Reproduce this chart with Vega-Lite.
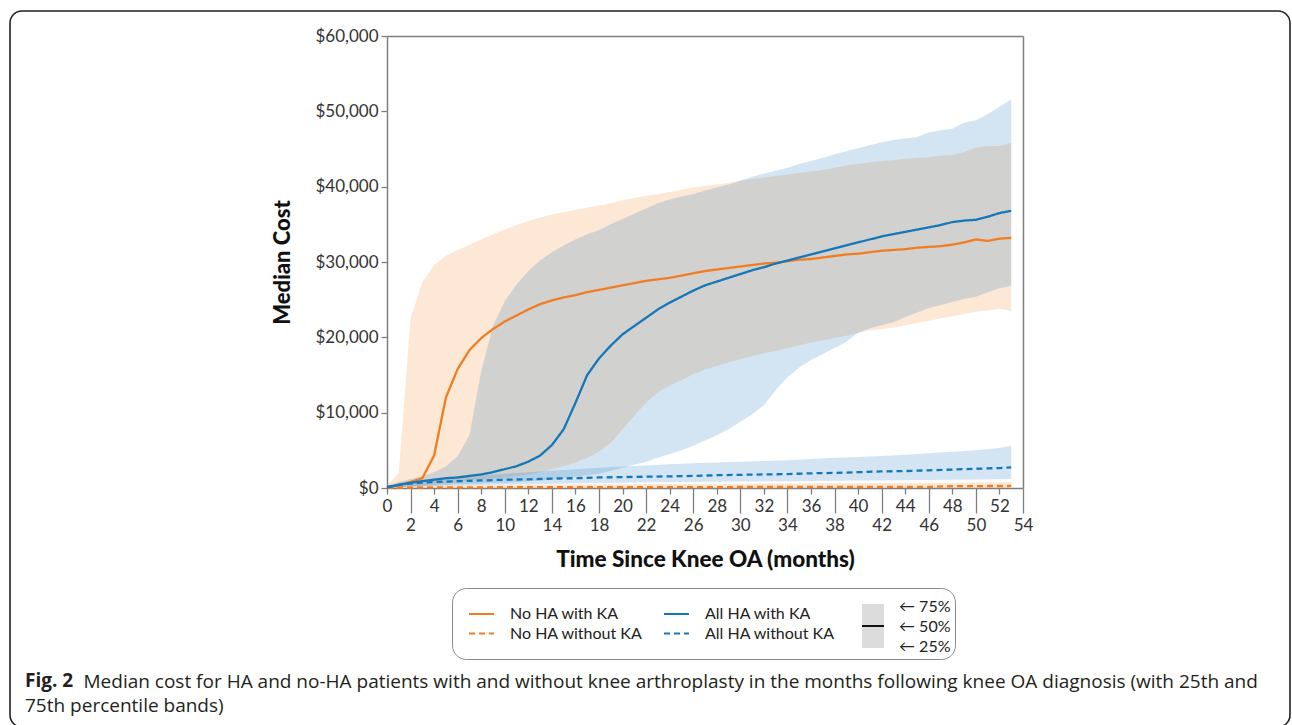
{
  "$schema": "https://vega.github.io/schema/vega-lite/v6.json",
  "autosize": "none",
  "width": 1280,
  "height": 716,
  "padding": {"left": 10, "top": 11, "right": 2, "bottom": -2},
  "background": "white",
  "config": {
    "view": {"stroke": "#222222", "strokeWidth": 1.6, "cornerRadius": 12},
    "axis": {"grid": false},
    "font": "Lato"
  },
  "title": {
    "text": "Fig. 2",
    "subtitle": "75th percentile bands)",
    "orient": "top",
    "anchor": "start",
    "frame": "group",
    "offset": 0,
    "dx": 15,
    "dy": 705,
    "font": "Open Sans",
    "fontSize": 19,
    "fontWeight": "bold",
    "color": "#231f20",
    "subtitleFont": "Open Sans",
    "subtitleFontSize": 19,
    "subtitleFontWeight": "normal",
    "subtitleColor": "#231f20",
    "subtitlePadding": 6
  },
  "datasets": {
    "d": [
      {"m":0,"s":"No HA with KA","lo":0,"med":100,"hi":300},
      {"m":1,"s":"No HA with KA","lo":100,"med":400,"hi":2000},
      {"m":2,"s":"No HA with KA","lo":200,"med":800,"hi":22500},
      {"m":3,"s":"No HA with KA","lo":300,"med":1300,"hi":27300},
      {"m":4,"s":"No HA with KA","lo":500,"med":4300,"hi":29600},
      {"m":5,"s":"No HA with KA","lo":600,"med":12000,"hi":30800},
      {"m":6,"s":"No HA with KA","lo":800,"med":15800,"hi":31600},
      {"m":7,"s":"No HA with KA","lo":1000,"med":18300,"hi":32300},
      {"m":8,"s":"No HA with KA","lo":1100,"med":19900,"hi":33000},
      {"m":9,"s":"No HA with KA","lo":1300,"med":21100,"hi":33700},
      {"m":10,"s":"No HA with KA","lo":1400,"med":22100,"hi":34300},
      {"m":11,"s":"No HA with KA","lo":1600,"med":22900,"hi":34900},
      {"m":12,"s":"No HA with KA","lo":1800,"med":23700,"hi":35400},
      {"m":13,"s":"No HA with KA","lo":2100,"med":24400,"hi":35900},
      {"m":14,"s":"No HA with KA","lo":2500,"med":24900,"hi":36300},
      {"m":15,"s":"No HA with KA","lo":2900,"med":25300,"hi":36600},
      {"m":16,"s":"No HA with KA","lo":3400,"med":25600,"hi":36900},
      {"m":17,"s":"No HA with KA","lo":4000,"med":26000,"hi":37200},
      {"m":18,"s":"No HA with KA","lo":4800,"med":26300,"hi":37500},
      {"m":19,"s":"No HA with KA","lo":6000,"med":26600,"hi":37800},
      {"m":20,"s":"No HA with KA","lo":7800,"med":26900,"hi":38200},
      {"m":21,"s":"No HA with KA","lo":9600,"med":27200,"hi":38500},
      {"m":22,"s":"No HA with KA","lo":11300,"med":27500,"hi":38800},
      {"m":23,"s":"No HA with KA","lo":12700,"med":27700,"hi":39000},
      {"m":24,"s":"No HA with KA","lo":13600,"med":27900,"hi":39300},
      {"m":25,"s":"No HA with KA","lo":14300,"med":28200,"hi":39600},
      {"m":26,"s":"No HA with KA","lo":15100,"med":28500,"hi":39900},
      {"m":27,"s":"No HA with KA","lo":15700,"med":28800,"hi":40100},
      {"m":28,"s":"No HA with KA","lo":16200,"med":29000,"hi":40300},
      {"m":29,"s":"No HA with KA","lo":16700,"med":29200,"hi":40500},
      {"m":30,"s":"No HA with KA","lo":17100,"med":29400,"hi":40800},
      {"m":31,"s":"No HA with KA","lo":17500,"med":29600,"hi":41000},
      {"m":32,"s":"No HA with KA","lo":17900,"med":29800,"hi":41200},
      {"m":33,"s":"No HA with KA","lo":18200,"med":29900,"hi":41400},
      {"m":34,"s":"No HA with KA","lo":18600,"med":30100,"hi":41600},
      {"m":35,"s":"No HA with KA","lo":18900,"med":30300,"hi":41800},
      {"m":36,"s":"No HA with KA","lo":19300,"med":30400,"hi":42000},
      {"m":37,"s":"No HA with KA","lo":19600,"med":30600,"hi":42200},
      {"m":38,"s":"No HA with KA","lo":19900,"med":30800,"hi":42500},
      {"m":39,"s":"No HA with KA","lo":20200,"med":31000,"hi":42800},
      {"m":40,"s":"No HA with KA","lo":20600,"med":31100,"hi":43000},
      {"m":41,"s":"No HA with KA","lo":20900,"med":31300,"hi":43200},
      {"m":42,"s":"No HA with KA","lo":21100,"med":31500,"hi":43400},
      {"m":43,"s":"No HA with KA","lo":21300,"med":31600,"hi":43500},
      {"m":44,"s":"No HA with KA","lo":21600,"med":31700,"hi":43700},
      {"m":45,"s":"No HA with KA","lo":21900,"med":31900,"hi":43800},
      {"m":46,"s":"No HA with KA","lo":22200,"med":32000,"hi":43900},
      {"m":47,"s":"No HA with KA","lo":22500,"med":32100,"hi":44100},
      {"m":48,"s":"No HA with KA","lo":22800,"med":32300,"hi":44200},
      {"m":49,"s":"No HA with KA","lo":23100,"med":32600,"hi":44600},
      {"m":50,"s":"No HA with KA","lo":23400,"med":33000,"hi":45200},
      {"m":51,"s":"No HA with KA","lo":23600,"med":32800,"hi":45400},
      {"m":52,"s":"No HA with KA","lo":23800,"med":33100,"hi":45400},
      {"m":53,"s":"No HA with KA","lo":23500,"med":33200,"hi":45800},

      {"m":0,"s":"No HA without KA","lo":0,"med":20,"hi":100},
      {"m":2,"s":"No HA without KA","lo":0,"med":60,"hi":350},
      {"m":6,"s":"No HA without KA","lo":0,"med":90,"hi":400},
      {"m":10,"s":"No HA without KA","lo":0,"med":100,"hi":430},
      {"m":14,"s":"No HA without KA","lo":0,"med":110,"hi":460},
      {"m":18,"s":"No HA without KA","lo":0,"med":115,"hi":490},
      {"m":22,"s":"No HA without KA","lo":0,"med":120,"hi":520},
      {"m":26,"s":"No HA without KA","lo":0,"med":125,"hi":550},
      {"m":30,"s":"No HA without KA","lo":0,"med":130,"hi":580},
      {"m":34,"s":"No HA without KA","lo":0,"med":135,"hi":610},
      {"m":38,"s":"No HA without KA","lo":0,"med":140,"hi":640},
      {"m":42,"s":"No HA without KA","lo":0,"med":145,"hi":670},
      {"m":46,"s":"No HA without KA","lo":0,"med":150,"hi":700},
      {"m":48,"s":"No HA without KA","lo":0,"med":250,"hi":710},
      {"m":50,"s":"No HA without KA","lo":0,"med":260,"hi":720},
      {"m":53,"s":"No HA without KA","lo":0,"med":270,"hi":750},

      {"m":0,"s":"All HA with KA","lo":0,"med":100,"hi":300},
      {"m":1,"s":"All HA with KA","lo":100,"med":400,"hi":800},
      {"m":2,"s":"All HA with KA","lo":200,"med":700,"hi":1200},
      {"m":3,"s":"All HA with KA","lo":300,"med":900,"hi":1600},
      {"m":4,"s":"All HA with KA","lo":300,"med":1100,"hi":2100},
      {"m":5,"s":"All HA with KA","lo":400,"med":1300,"hi":2900},
      {"m":6,"s":"All HA with KA","lo":500,"med":1400,"hi":4200},
      {"m":7,"s":"All HA with KA","lo":500,"med":1600,"hi":7000},
      {"m":8,"s":"All HA with KA","lo":600,"med":1800,"hi":15500},
      {"m":9,"s":"All HA with KA","lo":700,"med":2100,"hi":21500},
      {"m":10,"s":"All HA with KA","lo":700,"med":2500,"hi":24800},
      {"m":11,"s":"All HA with KA","lo":800,"med":2900,"hi":27000},
      {"m":12,"s":"All HA with KA","lo":900,"med":3500,"hi":28800},
      {"m":13,"s":"All HA with KA","lo":1000,"med":4300,"hi":30200},
      {"m":14,"s":"All HA with KA","lo":1100,"med":5700,"hi":31300},
      {"m":15,"s":"All HA with KA","lo":1300,"med":7800,"hi":32200},
      {"m":16,"s":"All HA with KA","lo":1500,"med":11300,"hi":33000},
      {"m":17,"s":"All HA with KA","lo":1700,"med":15000,"hi":33700},
      {"m":18,"s":"All HA with KA","lo":1900,"med":17200,"hi":34200},
      {"m":19,"s":"All HA with KA","lo":2300,"med":18900,"hi":35000},
      {"m":20,"s":"All HA with KA","lo":2700,"med":20400,"hi":35700},
      {"m":21,"s":"All HA with KA","lo":3100,"med":21500,"hi":36400},
      {"m":22,"s":"All HA with KA","lo":3500,"med":22600,"hi":37100},
      {"m":23,"s":"All HA with KA","lo":4000,"med":23700,"hi":37800},
      {"m":24,"s":"All HA with KA","lo":4500,"med":24600,"hi":38300},
      {"m":25,"s":"All HA with KA","lo":5000,"med":25400,"hi":38700},
      {"m":26,"s":"All HA with KA","lo":5600,"med":26200,"hi":39000},
      {"m":27,"s":"All HA with KA","lo":6300,"med":26900,"hi":39500},
      {"m":28,"s":"All HA with KA","lo":7000,"med":27400,"hi":39900},
      {"m":29,"s":"All HA with KA","lo":7800,"med":27900,"hi":40300},
      {"m":30,"s":"All HA with KA","lo":8800,"med":28400,"hi":40800},
      {"m":31,"s":"All HA with KA","lo":9800,"med":28900,"hi":41300},
      {"m":32,"s":"All HA with KA","lo":11000,"med":29300,"hi":41700},
      {"m":33,"s":"All HA with KA","lo":13000,"med":29800,"hi":42100},
      {"m":34,"s":"All HA with KA","lo":14700,"med":30200,"hi":42500},
      {"m":35,"s":"All HA with KA","lo":16000,"med":30600,"hi":43000},
      {"m":36,"s":"All HA with KA","lo":17000,"med":31000,"hi":43400},
      {"m":37,"s":"All HA with KA","lo":17800,"med":31400,"hi":43800},
      {"m":38,"s":"All HA with KA","lo":18600,"med":31800,"hi":44300},
      {"m":39,"s":"All HA with KA","lo":19400,"med":32200,"hi":44700},
      {"m":40,"s":"All HA with KA","lo":20600,"med":32600,"hi":45100},
      {"m":41,"s":"All HA with KA","lo":21200,"med":33000,"hi":45500},
      {"m":42,"s":"All HA with KA","lo":21600,"med":33400,"hi":45900},
      {"m":43,"s":"All HA with KA","lo":22000,"med":33700,"hi":46200},
      {"m":44,"s":"All HA with KA","lo":22700,"med":34000,"hi":46400},
      {"m":45,"s":"All HA with KA","lo":23300,"med":34300,"hi":46600},
      {"m":46,"s":"All HA with KA","lo":23900,"med":34600,"hi":47200},
      {"m":47,"s":"All HA with KA","lo":24300,"med":34900,"hi":47500},
      {"m":48,"s":"All HA with KA","lo":24700,"med":35300,"hi":47700},
      {"m":49,"s":"All HA with KA","lo":25100,"med":35500,"hi":48500},
      {"m":50,"s":"All HA with KA","lo":25400,"med":35600,"hi":48800},
      {"m":51,"s":"All HA with KA","lo":26000,"med":36000,"hi":49600},
      {"m":52,"s":"All HA with KA","lo":26500,"med":36500,"hi":50600},
      {"m":53,"s":"All HA with KA","lo":26800,"med":36800,"hi":51600},

      {"m":0,"s":"All HA without KA","lo":0,"med":100,"hi":300},
      {"m":1,"s":"All HA without KA","lo":100,"med":400,"hi":700},
      {"m":2,"s":"All HA without KA","lo":200,"med":600,"hi":900},
      {"m":4,"s":"All HA without KA","lo":300,"med":800,"hi":1300},
      {"m":6,"s":"All HA without KA","lo":350,"med":900,"hi":1500},
      {"m":8,"s":"All HA without KA","lo":400,"med":1000,"hi":1700},
      {"m":10,"s":"All HA without KA","lo":450,"med":1100,"hi":1900},
      {"m":12,"s":"All HA without KA","lo":500,"med":1150,"hi":2100},
      {"m":14,"s":"All HA without KA","lo":550,"med":1250,"hi":2300},
      {"m":16,"s":"All HA without KA","lo":600,"med":1300,"hi":2500},
      {"m":18,"s":"All HA without KA","lo":650,"med":1400,"hi":2700},
      {"m":20,"s":"All HA without KA","lo":700,"med":1450,"hi":2850},
      {"m":22,"s":"All HA without KA","lo":750,"med":1500,"hi":3000},
      {"m":24,"s":"All HA without KA","lo":780,"med":1550,"hi":3150},
      {"m":26,"s":"All HA without KA","lo":800,"med":1600,"hi":3300},
      {"m":28,"s":"All HA without KA","lo":830,"med":1700,"hi":3400},
      {"m":30,"s":"All HA without KA","lo":860,"med":1750,"hi":3500},
      {"m":32,"s":"All HA without KA","lo":880,"med":1800,"hi":3600},
      {"m":34,"s":"All HA without KA","lo":900,"med":1850,"hi":3700},
      {"m":36,"s":"All HA without KA","lo":920,"med":1950,"hi":3850},
      {"m":38,"s":"All HA without KA","lo":950,"med":2000,"hi":4000},
      {"m":40,"s":"All HA without KA","lo":980,"med":2100,"hi":4100},
      {"m":42,"s":"All HA without KA","lo":1000,"med":2200,"hi":4250},
      {"m":44,"s":"All HA without KA","lo":1030,"med":2250,"hi":4400},
      {"m":46,"s":"All HA without KA","lo":1060,"med":2350,"hi":4600},
      {"m":48,"s":"All HA without KA","lo":1090,"med":2450,"hi":4800},
      {"m":50,"s":"All HA without KA","lo":1120,"med":2550,"hi":5000},
      {"m":52,"s":"All HA without KA","lo":1150,"med":2650,"hi":5300},
      {"m":53,"s":"All HA without KA","lo":1200,"med":2750,"hi":5600}
    ]
  },
  "data": {"name": "d"},
  "layer": [
    {
      "mark": {"type": "area", "fillOpacity": 0.19, "strokeWidth": 0},
      "encoding": {
        "x": {
          "field": "m", "type": "quantitative",
          "scale": {"domain": [0, 54], "range": [377, 1013], "nice": false, "zero": false},
          "axis": {
            "orient": "bottom", "offset": -239,
            "values": [0,2,4,6,8,10,12,14,16,18,20,22,24,26,28,30,32,34,36,38,40,42,44,46,48,50,52,54],
            "format": "d",
            "tickSize": {"condition": {"test": "datum.value % 4 == 2", "value": 25}, "value": 6},
            "tickColor": "#7f7f7f", "tickWidth": 1.3,
            "domainColor": "#7f7f7f", "domainWidth": 1.5,
            "labelFont": "Lato", "labelFontSize": 17, "labelColor": "#333333", "labelPadding": 4,
            "labelFlush": false, "labelOverlap": false, "labelBound": false,
            "encode": {"labels": {"update": {"dy": {"signal": "datum.value % 4 == 2 ? 20 : 0"}}}},
            "title": "Time Since Knee OA (months)",
            "titleFont": "Lato", "titleFontSize": 22.5, "titleFontWeight": 900, "titleColor": "#111111", "titlePadding": 15
          }
        },
        "y": {
          "field": "lo", "type": "quantitative",
          "scale": {"domain": [0, 60000], "range": [477, 25], "nice": false},
          "axis": {
            "orient": "left", "offset": -377,
            "values": [0, 10000, 20000, 30000, 40000, 50000, 60000],
            "format": "$,.0f",
            "tickSize": 6, "tickColor": "#7f7f7f", "tickWidth": 1.3,
            "domainColor": "#7f7f7f", "domainWidth": 1.5,
            "labelFont": "Lato", "labelFontSize": 17, "labelColor": "#333333", "labelPadding": 3,
            "title": "Median Cost",
            "titleFont": "Lato", "titleFontSize": 22, "titleFontWeight": 900, "titleColor": "#111111", "titlePadding": 20
          }
        },
        "y2": {"field": "hi"},
        "fill": {
          "field": "s", "type": "nominal",
          "scale": {"domain": ["All HA with KA", "No HA with KA", "All HA without KA", "No HA without KA"], "range": ["#1677B8", "#F27D21", "#1677B8", "#F27D21"]},
          "legend": null
        },
        "opacity": {
          "datum": "25th to 75th percentile", "type": "nominal",
          "scale": {"range": [1]},
          "legend": {
            "orient": "none", "legendX": 841, "legendY": 593,
            "title": null, "padding": 0,
            "symbolType": "M-0.5,-1H0.5V1H-0.5Z", "symbolSize": 1936,
            "symbolStrokeWidth": 0, "symbolFillColor": "#dcdcdc",
            "labelExpr": "''", "labelOffset": 0,
            "encode": {
              "symbols": {
                "update": {
                  "fill": {"value": {"gradient": "linear", "x1": 0, "y1": 0, "x2": 0, "y2": 1,
                    "stops": [
                      {"offset": 0, "color": "#dcdcdc"},
                      {"offset": 0.475, "color": "#dcdcdc"},
                      {"offset": 0.475, "color": "#111111"},
                      {"offset": 0.53, "color": "#111111"},
                      {"offset": 0.53, "color": "#dcdcdc"},
                      {"offset": 1, "color": "#dcdcdc"}
                    ]}},
                  "stroke": {"value": "transparent"}
                }
              }
            }
          }
        }
      }
    },
    {
      "mark": {"type": "line", "strokeWidth": 2.3},
      "encoding": {
        "x": {
          "field": "m", "type": "quantitative",
          "axis": {
            "orient": "top", "offset": -25, "labels": false, "ticks": false,
            "domainColor": "#7f7f7f", "domainWidth": 1.5,
            "title": "Median cost for HA and no-HA patients with and without knee arthroplasty in the months following knee OA diagnosis (with 25th and",
            "titleX": 73, "titleY": 645, "titleAlign": "left", "titleBaseline": "middle", "titleAngle": 0,
            "titleFont": "Open Sans", "titleFontSize": 19, "titleFontWeight": "normal", "titleColor": "#231f20", "titleLimit": 1300
          }
        },
        "y": {
          "field": "med", "type": "quantitative",
          "axis": {"orient": "right", "offset": -267, "labels": false, "ticks": false, "title": null, "domainColor": "#7f7f7f", "domainWidth": 1.5}
        },
        "color": {
          "field": "s", "type": "nominal",
          "scale": {"domain": ["No HA with KA", "No HA without KA", "All HA with KA", "All HA without KA"], "range": ["#F27D21", "#F27D21", "#1677B8", "#1677B8"]},
          "legend": {
            "orient": "none", "legendX": 442, "legendY": 577,
            "columns": 2,
            "title": ["\u2190 75%", "\u2190 50%", "\u2190 25%"],
            "titleOrient": "right", "titlePadding": 64, "titleAnchor": "start",
            "titleFont": "Lato", "titleFontSize": 16, "titleFontWeight": "normal", "titleColor": "#222222", "titleLineHeight": 20,
            "strokeColor": "#8a8a8a", "cornerRadius": 14, "padding": 4, "symbolOffset": 12,
            "symbolType": "M-1,0H0.19", "symbolSize": 1764, "symbolStrokeWidth": 2,
            "labelFont": "Lato", "labelFontSize": 16, "labelColor": "#222222", "labelOffset": -2,
            "columnPadding": 8, "rowPadding": 0,
            "encode": {
              "symbols": {"update": {"shape": {"signal": "indexof(datum.value, 'without') >= 0 ? 'M-1,-0.5H0.19' : 'M-1,0H0.19'"}}},
              "labels": {"update": {"dy": {"signal": "indexof(datum.value, 'without') >= 0 ? -10.5 : 0"}}},
              "title": {"update": {"dy": {"value": 7}}}
            }
          }
        },
        "strokeDash": {
          "field": "s", "type": "nominal",
          "scale": {"domain": ["No HA with KA", "No HA without KA", "All HA with KA", "All HA without KA"], "range": [[1, 0], [6, 4], [1, 0], [6, 4]]},
          "legend": {
            "orient": "none", "legendX": 442, "legendY": 577,
            "columns": 2,
            "title": ["\u2190 75%", "\u2190 50%", "\u2190 25%"],
            "titleOrient": "right", "titlePadding": 64, "titleAnchor": "start",
            "titleFont": "Lato", "titleFontSize": 16, "titleFontWeight": "normal", "titleColor": "#222222", "titleLineHeight": 20,
            "strokeColor": "#8a8a8a", "cornerRadius": 14, "padding": 4, "symbolOffset": 12,
            "symbolType": "M-1,0H0.19", "symbolSize": 1764, "symbolStrokeWidth": 2,
            "labelFont": "Lato", "labelFontSize": 16, "labelColor": "#222222", "labelOffset": -2,
            "columnPadding": 8, "rowPadding": 0,
            "encode": {
              "symbols": {"update": {"shape": {"signal": "indexof(datum.value, 'without') >= 0 ? 'M-1,-0.5H0.19' : 'M-1,0H0.19'"}}},
              "labels": {"update": {"dy": {"signal": "indexof(datum.value, 'without') >= 0 ? -10.5 : 0"}}},
              "title": {"update": {"dy": {"value": 7}}}
            }
          }
        }
      }
    }
  ],
  "resolve": {"axis": {"x": "independent", "y": "independent"}}
}
